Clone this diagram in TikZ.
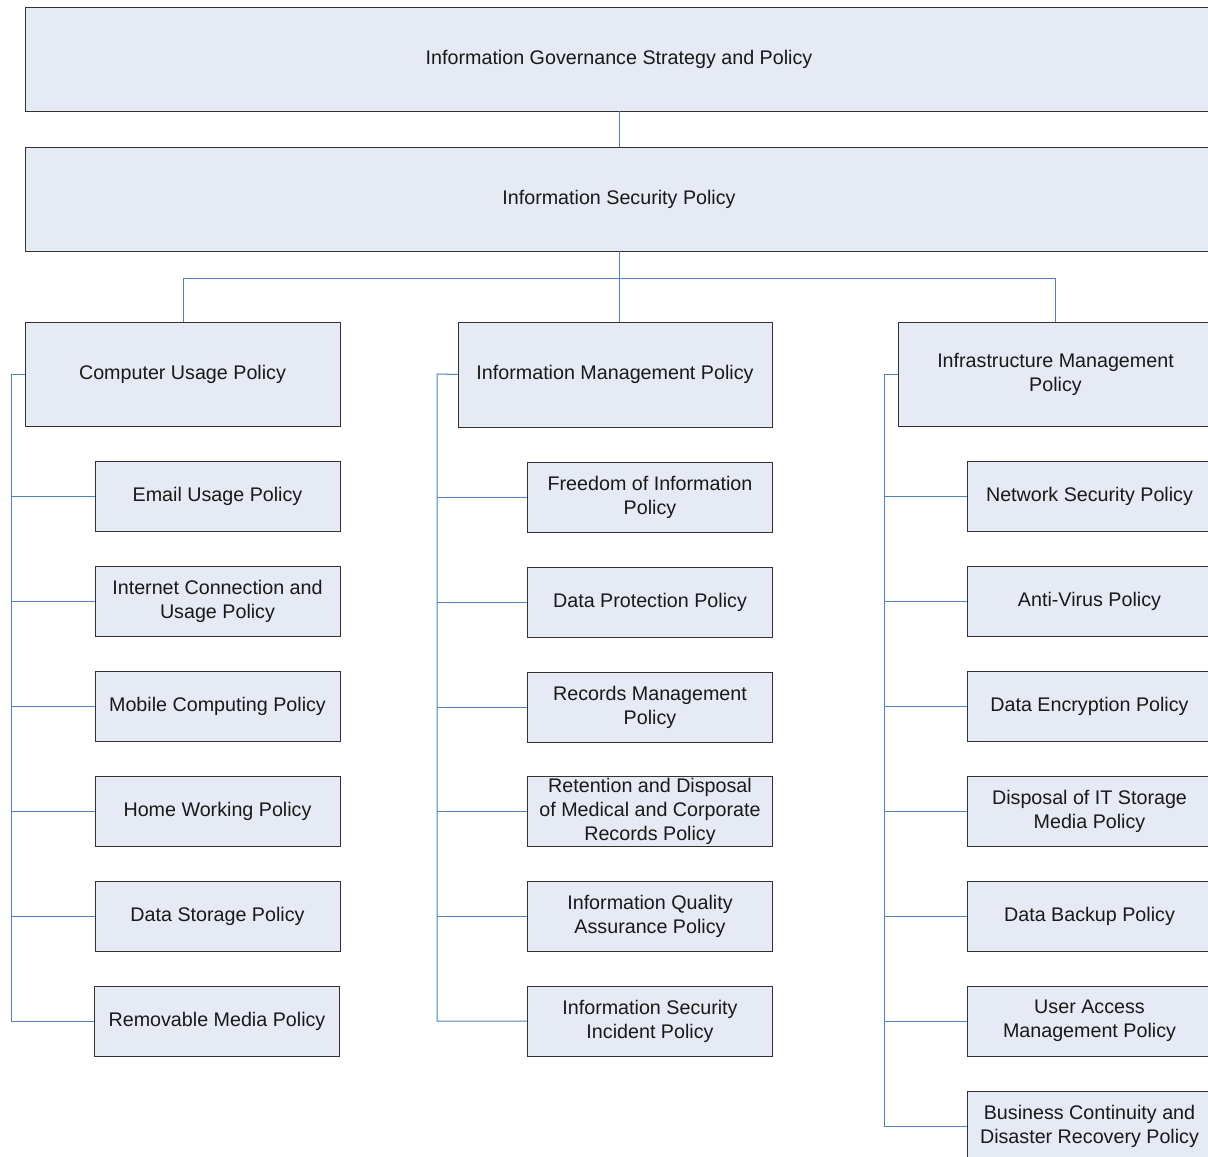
\documentclass[tikz,border=0pt]{standalone}
\usepackage{fontspec}
\setmainfont{Liberation Sans}
\definecolor{boxfill}{RGB}{230,234,244}
\definecolor{linkblue}{RGB}{79,129,189}
\definecolor{boxline}{RGB}{50,50,50}
\begin{document}
\begin{tikzpicture}[x=1pt,y=-1pt,
  pbox/.style={draw=boxline, line width=0.9pt, fill=boxfill, inner sep=0pt, align=center,
    font=\fontsize{19.7}{24}\selectfont, text=black!90},
  bigbox/.style={pbox, minimum width=1188pt, minimum height=104pt},
  midbox/.style={pbox, minimum width=315pt, minimum height=104pt},
  kidbox/.style={pbox, minimum width=245pt, minimum height=70pt},
  link/.style={draw=linkblue, line width=1pt}]
\useasboundingbox (0,0) rectangle (1208,1157);
\clip (0,0) rectangle (1208,1157);

\coordinate (busL) at (183,278);
\coordinate (busR) at (1055,278);

\node[bigbox] (top) at (619,59) {Information Governance Strategy and Policy};
\node[bigbox] (sec) at (619,199) {Information Security Policy};

\node[midbox] (cu) at (182.5,374) {Computer Usage Policy};
\node[midbox, minimum width=314pt, minimum height=105pt] (im) at (615,374.5) {Information Management Policy};
\node[midbox] (inf) at (1055.5,374) {Infrastructure Management\\Policy};

% left column
\node[kidbox] (l1) at (217.5,496) {Email Usage Policy};
\node[kidbox] (l2) at (217.5,601) {Internet Connection and\\Usage Policy};
\node[kidbox] (l3) at (217.5,706) {Mobile Computing Policy};
\node[kidbox] (l4) at (217.5,811) {Home Working Policy};
\node[kidbox] (l5) at (217.5,916) {Data Storage Policy};
\node[kidbox] (l6) at (217,1021) {Removable Media Policy};

% middle column
\node[kidbox] (m1) at (650,497) {Freedom of Information\\Policy};
\node[kidbox] (m2) at (650,602) {Data Protection Policy};
\node[kidbox] (m3) at (650,707) {Records Management\\Policy};
\node[kidbox] (m4) at (650,811) {Retention and Disposal\\of Medical and Corporate\\Records Policy};
\node[kidbox] (m5) at (650,916) {Information Quality\\Assurance Policy};
\node[kidbox] (m6) at (650,1021) {Information Security\\Incident Policy};

% right column
\node[kidbox] (r1) at (1089.5,496) {Network Security Policy};
\node[kidbox] (r2) at (1089.5,601) {Anti-Virus Policy};
\node[kidbox] (r3) at (1089.5,706) {Data Encryption Policy};
\node[kidbox] (r4) at (1089.5,811) {Disposal of IT Storage\\Media Policy};
\node[kidbox] (r5) at (1089.5,916) {Data Backup Policy};
\node[kidbox] (r6) at (1089.5,1021) {User Access\\Management Policy};
\node[kidbox] (r7) at (1089.5,1126) {Business Continuity and\\Disaster Recovery Policy};

% connectors
\draw[link] (top.south) -- (sec.north);
\draw[link] (sec.south) -- (sec.south |- im.north);
\draw[link] (busL) -- (busR);
\draw[link] (busL) -- (busL |- cu.north);
\draw[link] (busR) -- (busR |- inf.north);

\coordinate (bl) at (11,374);
\coordinate (bm) at (437,374);
\coordinate (br) at (884,374);
\draw[link] (cu.west) -- (bl) -- (bl |- l6.west) -- (l6.west);
\foreach \k in {l1,l2,l3,l4,l5} \draw[link] (bl |- \k.west) -- (\k.west);
\draw[link] (im.west) -- (bm) -- (bm |- m6.west) -- (m6.west);
\foreach \k in {m1,m2,m3,m4,m5} \draw[link] (bm |- \k.west) -- (\k.west);
\draw[link] (inf.west) -- (br) -- (br |- r7.west) -- (r7.west);
\foreach \k in {r1,r2,r3,r4,r5,r6} \draw[link] (br |- \k.west) -- (\k.west);
\end{tikzpicture}
\end{document}
